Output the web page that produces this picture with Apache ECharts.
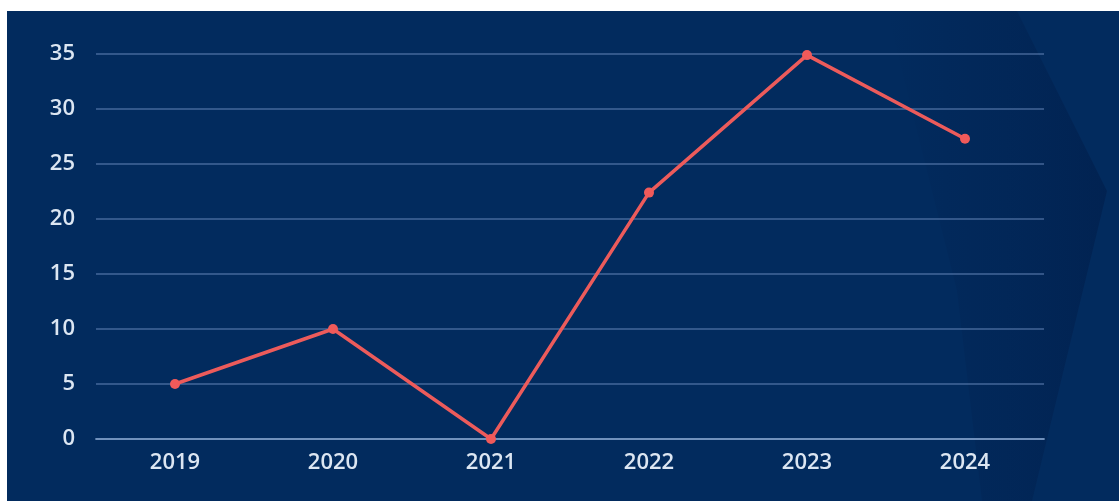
<!DOCTYPE html>
<html>
<head>
<meta charset="utf-8">
<script src="https://cdn.jsdelivr.net/npm/echarts@6/dist/echarts.min.js"></script>
<style>
  html, body { margin: 0; padding: 0; background: #ffffff; width: 1119px; height: 501px; overflow: hidden; }
  #chart { position: absolute; left: 7px; top: 11px; width: 1112px; height: 490px; }
</style>
</head>
<body>
<div id="chart"></div>
<script>
  // data
  const years = ['2019', '2020', '2021', '2022', '2023', '2024'];
  const values = [5, 10, 0, 22.4, 34.9, 27.3];
  const yTicks = { min: 0, max: 35, interval: 5 };

  const chart = echarts.init(document.getElementById('chart'));

  const labelColor = '#dce6f2';
  const gridColor = 'rgba(110, 145, 195, 0.45)';
  const labelFont = '"Open Sans", sans-serif';

  const option = {
    backgroundColor: '#022b5e',
    graphic: [
      {
        // darker decorative shape on the right side
        type: 'polygon',
        silent: true,
        z: -1,
        shape: { points: [[880, 0], [1010, 0], [1100, 180], [1025, 490], [975, 490], [950, 280]] },
        style: {
          fill: {
            type: 'linear', x: 0, y: 0, x2: 1, y2: 0,
            colorStops: [
              { offset: 0, color: 'rgba(1, 30, 75, 0)' },
              { offset: 0.6, color: 'rgba(1, 30, 75, 0.35)' },
              { offset: 1, color: 'rgba(1, 30, 75, 0.65)' }
            ]
          }
        }
      }
    ],
    grid: {
      left: 89,
      right: 75,
      top: 43,
      bottom: 62
    },
    xAxis: {
      type: 'category',
      data: years,
      boundaryGap: true,
      axisLine: { show: true, lineStyle: { color: 'rgba(140, 170, 210, 0.7)', width: 2 } },
      axisTick: { show: false },
      axisLabel: {
        color: labelColor,
        fontFamily: labelFont,
        fontWeight: 600,
        fontSize: 22,
        margin: 13
      }
    },
    yAxis: {
      type: 'value',
      min: yTicks.min,
      max: yTicks.max,
      interval: yTicks.interval,
      axisLine: { show: false },
      axisTick: { show: false },
      splitLine: { lineStyle: { color: gridColor, width: 2 } },
      axisLabel: {
        color: labelColor,
        fontFamily: labelFont,
        fontWeight: 600,
        fontSize: 22,
        margin: 21
      }
    },
    series: [
      {
        type: 'line',
        data: values,
        symbol: 'circle',
        symbolSize: 10,
        lineStyle: { color: '#ec5b5b', width: 3.5 },
        itemStyle: { color: '#f05a5a' },
        z: 5
      }
    ]
  };

  chart.setOption(option);
</script>
</body>
</html>
